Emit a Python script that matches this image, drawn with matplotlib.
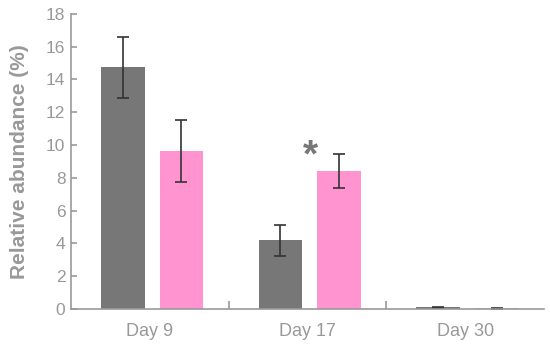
import numpy as np
import matplotlib.pyplot as plt

plt.rcParams['font.family'] = ['Liberation Sans', 'DejaVu Sans']

days = ["Day 9", "Day 17", "Day 30"]
control = [14.75, 4.2, 0.1]
control_err = [1.85, 0.95, 0.05]
treated = [9.65, 8.4, 0.05]
treated_err = [1.9, 1.03, 0.03]

grey = "#777777"
pink = "#ff94d0"
axis_col = "#999999"

fig = plt.figure(figsize=(5.5, 3.48), dpi=100)
ax = fig.add_axes([0.129, 0.112, 0.860, 0.848])

x = np.arange(len(days))
w = 0.275
off = 0.186
ax.bar(x - off + 0.015, control, w, color=grey)
ax.bar(x + off + 0.015, treated, w, color=pink)
ax.errorbar(x - off + 0.015, control, yerr=control_err, fmt="none", ecolor="#333333",
            elinewidth=1.2, capsize=4, capthick=1.2)
ax.errorbar(x + off + 0.015, treated, yerr=treated_err, fmt="none", ecolor="#333333",
            elinewidth=1.2, capsize=4, capthick=1.2)

# significance marker
ax.text(1.02, 9.3, "*", ha="center", va="center",
        fontsize=28, fontweight="bold", color=grey)

ax.set_xlim(-0.5, 2.5)
ax.set_ylim(0, 18)
ax.set_yticks(np.arange(0, 19, 2))
ax.set_xticks(x)
ax.set_xticklabels(days)
ax.set_xticks([0.5, 1.5], minor=True)

for s in ["top", "right"]:
    ax.spines[s].set_visible(False)
for s in ["left", "bottom"]:
    ax.spines[s].set_color(axis_col)
    ax.spines[s].set_linewidth(1.2)

ax.tick_params(axis="y", direction="in", length=4, width=1.2, color=axis_col,
               labelcolor=axis_col, labelsize=12.5, pad=4)
ax.tick_params(axis="x", which="major", length=0, labelcolor=axis_col,
               labelsize=13, pad=10)
ax.tick_params(axis="x", which="minor", direction="in", length=6, width=1.2,
               color=axis_col)

ax.set_ylabel("Relative abundance (%)", color=axis_col, fontsize=15,
              fontweight="bold", labelpad=12)

fig.savefig("out.png", dpi=100)
